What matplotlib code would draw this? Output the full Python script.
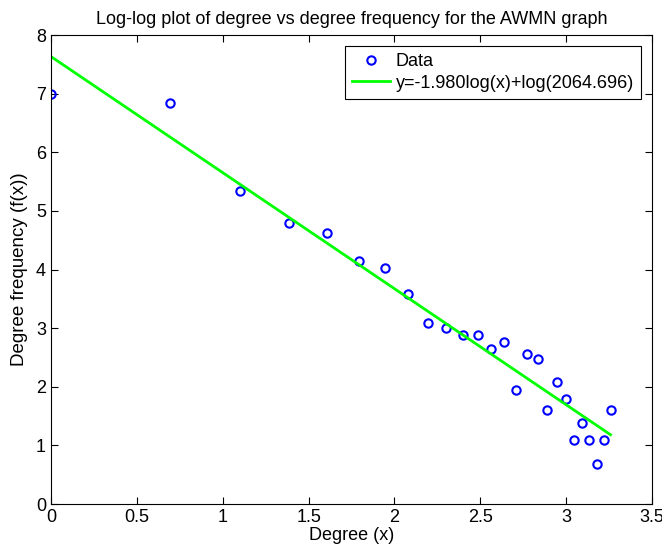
import numpy as np
import matplotlib
matplotlib.use('Agg')
import matplotlib.pyplot as plt

plt.rcParams['font.family'] = ['Liberation Sans', 'DejaVu Sans']

# log(degree) and log(frequency)
log_degree = [0.000, 0.693, 1.099, 1.386, 1.609, 1.792, 1.946, 2.079, 2.197,
              2.303, 2.398, 2.485, 2.565, 2.639, 2.708, 2.773, 2.833, 2.890,
              2.944, 2.996, 3.045, 3.091, 3.135, 3.178, 3.219, 3.258]
log_freq = [7.00, 6.84, 5.34, 4.80, 4.63, 4.14, 4.03, 3.58, 3.09,
            3.00, 2.89, 2.89, 2.64, 2.77, 1.95, 2.56, 2.48, 1.61,
            2.08, 1.79, 1.10, 1.39, 1.10, 0.69, 1.10, 1.61]

slope = -1.980
intercept_k = 2064.696

fig = plt.figure(figsize=(6.62, 5.56), dpi=100)
ax = fig.add_axes([0.077, 0.0935, 0.908, 0.8435])

ax.plot(log_degree, log_freq, 'o', color='blue', markerfacecolor='none',
        markersize=6, markeredgewidth=1.5, label='Data')

xs = np.array([log_degree[0], log_degree[-1]])
ax.plot(xs, slope * xs + np.log(intercept_k), color='#00ff00', linewidth=2,
        label='y=%.3flog(x)+log(%.3f)' % (slope, intercept_k))

ax.set_xlim(0, 3.5)
ax.set_ylim(0, 8)
ax.set_xticks(np.arange(0, 3.51, 0.5))
ax.set_xticklabels(['0', '0.5', '1', '1.5', '2', '2.5', '3', '3.5'])
ax.set_yticks(range(9))
ax.tick_params(direction='in', top=True, right=True, labelsize=13, length=5)

ax.set_title('Log-log plot of degree vs degree frequency for the AWMN graph',
             fontsize=13, pad=8)
ax.set_xlabel('Degree (x)', fontsize=13, labelpad=1)
ax.set_ylabel('Degree frequency (f(x))', fontsize=13.5, labelpad=6)

leg = ax.legend(loc='upper right', fontsize=13, fancybox=False,
                edgecolor='black', framealpha=1, borderaxespad=0.6,
                handlelength=2.1, borderpad=0.4, labelspacing=0.25,
                handletextpad=0.3)
leg.get_frame().set_linewidth(0.8)

fig.savefig('out.png', dpi=100)
